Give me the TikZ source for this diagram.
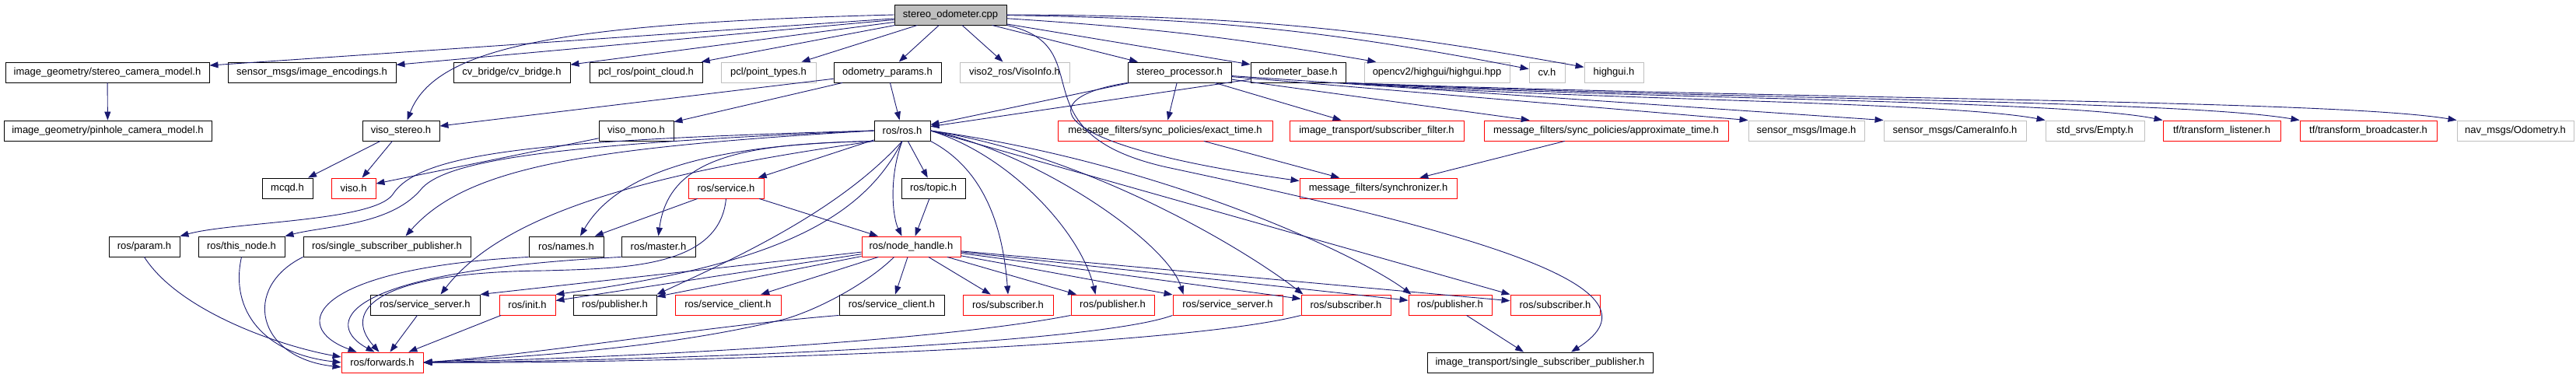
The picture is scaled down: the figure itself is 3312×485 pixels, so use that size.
\documentclass[tikz,border=0pt]{standalone}
\usepackage{fontspec}
\setmainfont{Liberation Sans}
\usetikzlibrary{arrows.meta,calc,positioning}
\definecolor{edgeblue}{RGB}{25,25,112}
\definecolor{nodoc}{RGB}{191,191,191}

\begin{document}
\begin{tikzpicture}[
		x=1pt, y=-1pt,
		file/.style={draw=black, fill=white, line width=0.9pt, minimum height=26pt, inner xsep=1pt, inner ysep=0pt, font=\fontsize{13}{15}\selectfont},
		extfile/.style={file, draw=nodoc},
		trunc/.style={file, draw=red},
		root/.style={file, fill=nodoc},
		dep/.style={draw=edgeblue, line width=0.9pt, -{Triangle[length=11pt,width=8pt]}}
		]
	\useasboundingbox (0,0) rectangle (3312,485);

		% row 0
		\node[root, minimum width=144pt] (cpp) at (1222,19) {stereo\_odometer.cpp};
		% row 1
		\node[file, minimum width=262pt] (scm) at (138,93) {image\_geometry/stereo\_camera\_model.h};
		\node[file, minimum width=216pt] (enc) at (401,93) {sensor\_msgs/image\_encodings.h};
		\node[file, minimum width=150pt] (cvb) at (658,93) {cv\_bridge/cv\_bridge.h};
		\node[file, minimum width=145pt] (pcl) at (830.5,93) {pcl\_ros/point\_cloud.h};
		\node[extfile, minimum width=122pt] (ptt) at (988,93) {pcl/point\_types.h};
		\node[file, minimum width=138pt] (par) at (1141,93) {odometry\_params.h};
		\node[extfile, minimum width=141pt] (vinfo) at (1304.5,93) {viso2\_ros/VisoInfo.h};
		\node[file, minimum width=133pt] (spr) at (1516.5,93) {stereo\_processor.h};
		\node[file, minimum width=122pt] (obase) at (1669,93) {odometer\_base.h};
		\node[extfile, minimum width=187pt] (hgpp) at (1847.5,93) {opencv2/highgui/highgui.hpp};
		\node[extfile, minimum width=46pt] (cvh) at (1989,93) {cv.h};
		\node[extfile, minimum width=76pt] (hgh) at (2075,93) {highgui.h};
		% row 2
		\node[file, minimum width=267pt] (pin) at (138.5,168) {image\_geometry/pinhole\_camera\_model.h};
		\node[file, minimum width=99pt] (vst) at (515.5,168) {viso\_stereo.h};
		\node[file, minimum width=96pt] (vmo) at (818,168) {viso\_mono.h};
		\node[file, minimum width=72pt] (ros) at (1160,168) {ros/ros.h};
		\node[trunc, minimum width=276pt] (ext) at (1498,168) {message\_filters/sync\_policies/exact\_time.h};
		\node[trunc, minimum width=224pt] (sflt) at (1770,168) {image\_transport/subscriber\_filter.h};
		\node[trunc, minimum width=314pt] (apx) at (2065,168) {message\_filters/sync\_policies/approximate\_time.h};
		\node[extfile, minimum width=149pt] (img) at (2322.5,168) {sensor\_msgs/Image.h};
		\node[extfile, minimum width=183pt] (cam) at (2513.5,168) {sensor\_msgs/CameraInfo.h};
		\node[extfile, minimum width=127pt] (emp) at (2693.5,168) {std\_srvs/Empty.h};
		\node[trunc, minimum width=151pt] (tfl) at (2856.5,168) {tf/transform\_listener.h};
		\node[trunc, minimum width=176pt] (tfb) at (3045,168) {tf/transform\_broadcaster.h};
		\node[extfile, minimum width=150pt] (odo) at (3234,168) {nav\_msgs/Odometry.h};
		% row 3
		\node[file, minimum width=65pt] (mcqd) at (369.5,242) {mcqd.h};
		\node[trunc, minimum width=57pt] (viso) at (454.5,242) {viso.h};
		\node[trunc, minimum width=97pt] (srv) at (933.5,242) {ros/service.h};
		\node[file, minimum width=82pt] (top) at (1200,242) {ros/topic.h};
		\node[trunc, minimum width=202pt] (sync) at (1772,242) {message\_filters/synchronizer.h};
		% row 4
		\node[file, minimum width=91pt] (prm) at (185.5,317) {ros/param.h};
		\node[file, minimum width=111pt] (thn) at (310.5,317) {ros/this\_node.h};
		\node[file, minimum width=215pt] (ssp) at (497.5,317) {ros/single\_subscriber\_publisher.h};
		\node[file, minimum width=96pt] (nam) at (728,317) {ros/names.h};
		\node[file, minimum width=95pt] (mst) at (846.5,317) {ros/master.h};
		\node[trunc, minimum width=127pt] (nh) at (1171.5,317) {ros/node\_handle.h};
		% row 5
		\node[file, minimum width=141pt] (ssvA) at (546.5,392) {ros/service\_server.h};
		\node[trunc, minimum width=72pt] (ini) at (678,392) {ros/init.h};
		\node[file, minimum width=107pt] (pubA) at (790.5,392) {ros/publisher.h};
		\node[trunc, minimum width=136pt] (sclA) at (936,392) {ros/service\_client.h};
		\node[file, minimum width=135pt] (sclB) at (1146.5,392) {ros/service\_client.h};
		\node[trunc, minimum width=116pt] (subA) at (1296,392) {ros/subscriber.h};
		\node[trunc, minimum width=107pt] (pubB) at (1430.5,392) {ros/publisher.h};
		\node[trunc, minimum width=141pt] (ssvB) at (1578.5,392) {ros/service\_server.h};
		\node[trunc, minimum width=115pt] (subB) at (1730.5,392) {ros/subscriber.h};
		\node[trunc, minimum width=107pt] (pubC) at (1864.5,392) {ros/publisher.h};
		\node[trunc, minimum width=115pt] (subC) at (1999.5,392) {ros/subscriber.h};
		% row 6
		\node[trunc, minimum width=105pt] (fwd) at (491.5,466) {ros/forwards.h};
		\node[file, minimum width=290pt] (itssp) at (1980,466) {image\_transport/single\_subscriber\_publisher.h};

		% includes of the source file
		\draw[dep] (cpp) -- (scm);
		\draw[dep] (cpp) -- (enc);
		\draw[dep] (cpp) -- (cvb);
		\draw[dep] (cpp) -- (pcl);
		\draw[dep] (cpp) -- (ptt);
		\draw[dep] (cpp) -- (par);
		\draw[dep] (cpp) -- (vinfo);
		\draw[dep] (cpp) -- (spr);
		\draw[dep] (cpp) -- (obase);
		\draw[dep] (cpp) to[bend left=3] (hgpp);
		\draw[dep] (cpp) to[bend left=5] (cvh);
		\draw[dep] (cpp) to[bend left=5] (hgh);
		\draw[dep] (cpp.west) .. controls (720,30) and (560,60) .. ($(vst.north)+(8,0)$);
		\draw[dep] (cpp.south east) .. controls (1420,60) and (1300,170) .. (1500,215) .. controls (1900,300) and (2150,370) .. ($(itssp.north)+(40,0)$);

		\draw[dep] (scm) -- (pin);
		\draw[dep] (par) -- (vst);
		\draw[dep] (par) -- (vmo);
		\draw[dep] (par) -- (ros);
		\draw[dep] (vst) -- (mcqd);
		\draw[dep] (vst) -- (viso);
		\draw[dep] (vmo) -- (viso);

		% stereo_processor.h and odometer_base.h
		\draw[dep] (spr) -- (ros);
		\draw[dep] (obase) -- (ros);
		\draw[dep] (spr) -- (ext);
		\draw[dep] (spr) -- (sflt);
		\draw[dep] (spr) -- (apx);
		\draw[dep] (spr) -- (img.north west);
		\draw[dep] (spr) -- (cam.north west);
		\draw[dep] (spr.south west) .. controls (1330,125) and (1330,185) .. ($(sync.north west)+(0,4)$);
		\draw[dep] (obase.south east) .. controls (2000,128) and (2500,130) .. (emp.north west);
		\draw[dep] (obase.south east) .. controls (2100,128) and (2650,128) .. (tfl.north west);
		\draw[dep] (obase.south east) .. controls (2200,128) and (2800,128) .. (tfb.north west);
		\draw[dep] (obase.south east) .. controls (2300,128) and (3000,128) .. (odo.north west);
		\draw[dep] (ext) -- (sync);
		\draw[dep] (apx) -- (sync);

		% ros/ros.h
		\draw[dep] (ros) -- (srv);
		\draw[dep] (ros) -- (top);
		\draw[dep] (ros.south) .. controls (1142,230) and (1148,280) .. ($(nh.north)+(-12,0)$);
		\draw[dep] (ros.west) .. controls (700,180) and (540,195) .. (505,250) .. controls (480,285) and (300,285) .. (prm.north east);
		\draw[dep] (ros.west) .. controls (720,185) and (570,205) .. (540,245) .. controls (500,290) and (420,290) .. (thn.north east);
		\draw[dep] (ros.west) .. controls (750,190) and (600,215) .. ($(ssp.north)+(24,0)$);
		\draw[dep] (ros.south west) .. controls (950,185) and (800,210) .. ($(nam.north)+(18,0)$);
		\draw[dep] (ros.south west) .. controls (960,185) and (860,200) .. (mst.north);
		\draw[dep] (ros.south west) .. controls (850,220) and (650,270) .. ($(ssvA.north)+(20,0)$);
		\draw[dep] (ros.south) .. controls (1110,280) and (1000,340) .. (ini.north east);
		\draw[dep] (ros.south) .. controls (1080,270) and (950,330) .. (pubA.north east);
		\draw[dep] (ros.south east) .. controls (1270,220) and (1290,300) .. (subA.north);
		\draw[dep] (ros.east) .. controls (1300,200) and (1390,300) .. ($(pubB.north)+(-22,0)$);
		\draw[dep] (ros.east) .. controls (1330,195) and (1500,310) .. ($(ssvB.north)+(-57,0)$);
		\draw[dep] (ros.east) .. controls (1400,200) and (1600,320) .. ($(subB.north)+(-55,0)$);
		\draw[dep] (ros.east) .. controls (1500,210) and (1750,330) .. ($(pubC.north)+(-50,0)$);
		\draw[dep] (ros.east) -- (subC.north west);
		\draw[dep] (top) -- (nh);
		\draw[dep] (srv) -- (nh);
		\draw[dep] (srv) -- (nam);

		% ros/node_handle.h
		\draw[dep] (nh) -- (ssvA.north east);
		\draw[dep] (nh) -- (ini);
		\draw[dep] (nh) -- (pubA);
		\draw[dep] (nh) -- (sclA);
		\draw[dep] (nh) -- (sclB);
		\draw[dep] (nh) -- (subA);
		\draw[dep] (nh) -- (pubB);
		\draw[dep] (nh) -- (ssvB);
		\draw[dep] (nh) -- (subB);
		\draw[dep] (nh) -- (pubC);
		\draw[dep] (nh) -- (subC);
		\draw[dep] (pubC) -- (itssp);

		% ros/forwards.h
		\draw[dep] (prm.south) .. controls (230,400) and (360,445) .. ($(fwd.west)+(0,-7)$);
		\draw[dep] (thn.south) .. controls (295,400) and (340,455) .. (fwd.west);
		\draw[dep] (ssp.south west) .. controls (310,370) and (330,460) .. ($(fwd.west)+(0,6)$);
		\draw[dep] (nam.south west) .. controls (400,345) and (370,420) .. ($(fwd.north west)+(20,0)$);
		\draw[dep] (mst.south west) .. controls (420,350) and (420,420) .. ($(fwd.north)+(-10,0)$);
		\draw[dep] (srv.south) .. controls (925,345) and (800,345) .. (700,348) .. controls (480,350) and (440,400) .. ($(fwd.north)+(-4,0)$);
		\draw[dep] (ssvA) -- (fwd);
		\draw[dep] (ini) -- (fwd);
		\draw[dep] ($(nh.south)+(-22,0)$) .. controls (1120,360) and (1060,395) .. (1010,410) .. controls (850,450) and (650,460) .. (fwd.east);
		\draw[dep] (sclB.south west) .. controls (900,420) and (700,455) .. (fwd.east);
		\draw[dep] (pubB.south west) .. controls (1200,440) and (800,460) .. (fwd.east);
		\draw[dep] (ssvB.south west) .. controls (1400,445) and (800,465) .. (fwd.east);
		\draw[dep] (subB.south west) .. controls (1500,450) and (800,468) .. (fwd.east);

	\end{tikzpicture}
\end{document}
